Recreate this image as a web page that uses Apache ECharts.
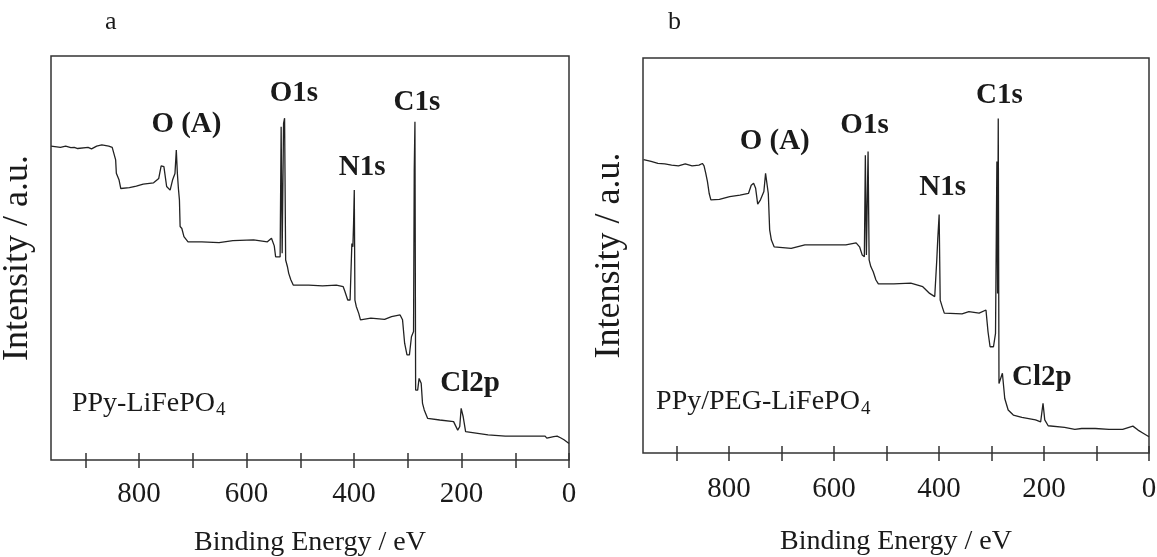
<!DOCTYPE html>
<html>
<head>
<meta charset="utf-8">
<script src="https://cdn.jsdelivr.net/npm/echarts@6/dist/echarts.min.js"></script>
<style>html,body{margin:0;padding:0;background:#fff;}#c{width:1157px;height:557px;}</style>
</head>
<body>
<div id="c"></div>
<script>
// ---- data (Binding energy eV, intensity a.u. 0-100 of frame) ----
const specA = [
[963.7,77.7],[946.4,77.4],[936.7,77.7],[927.1,77.3],[920.7,77.4],[914.3,77.1],[895,77.4],[888.6,77],[879,77.7],[869.4,78],[856.5,77.7],[850.1,77.4],[846.9,77.7],[843.7,74.3],[842.4,71],[837.3,69.3],[834.1,67.2],[818,67.4],[805.2,67.8],[792.4,68.3],[773.1,68.6],[763.5,69.7],[759,72.8],[753.9,72.6],[748.8,67.7],[742.3,66.8],[737.8,69.3],[733.3,70.9],[730.8,76.7],[728.8,70.9],[726.9,67.2],[725,64.4],[723.7,57.8],[720.5,57.3],[716.6,55.3],[709,54],[683.3,54],[651.2,53.8],[625.5,54.3],[587,54.5],[561.3,54],[553.7,54.9],[548.5,53],[546,50.3],[537.6,50.3],[535.7,82.5],[533.8,51.2],[531.2,83.3],[529.3,84.6],[527.3,49.5],[524.1,47.9],[521.6,46.2],[517.7,44.6],[513.2,43.3],[484.3,43.3],[458.7,43.1],[433,43.3],[420.2,42.9],[417,41.7],[411.8,39.6],[407.4,39.6],[404.1,53.6],[402.2,52.8],[400.9,58.6],[399.6,66.8],[398.4,39.6],[395.9,38],[391.3,36.3],[388.1,34.7],[368.8,35.1],[343.2,34.8],[330.3,35.5],[314.3,35.9],[309.8,34.7],[305.9,28.9],[301.5,26],[297,26],[293.2,30.5],[289.3,31.8],[288,71.8],[286.7,83.7],[285.4,17.3],[281.6,17.3],[279,20.2],[275.1,19],[272.6,14],[269.4,12.4],[263,10.3],[240.5,9.9],[214.8,9.5],[207.1,7.4],[203.3,8.3],[200.7,12.8],[196.9,10.7],[192.4,7],[189.2,6.6],[150.6,6.2],[118.6,5.9],[73.6,5.9],[44.5,5.9],[41.3,5.4],[28.5,5.8],[22.1,5.9],[15.9,5.5],[9.3,5],[0,4.1]
];
const specB = [
[962.9,74.3],[948.6,73.8],[935.6,73.3],[922.5,73.2],[909.5,72.9],[896.5,72.7],[883.5,73.2],[870.5,72.7],[857.4,72.9],[850.9,73.3],[847.7,72.7],[844.4,70.8],[841.2,68.7],[837.9,65.7],[834.7,64.1],[818.4,64.2],[798.8,64.9],[779.3,65.3],[763.1,65.7],[757.8,67.8],[753.3,68.3],[749.4,67],[745.5,63],[740.2,64.1],[733.7,66.2],[730.5,70.8],[727.9,70.4],[725.3,65.7],[722.7,56.5],[719.4,53.9],[714.2,52.2],[681.7,51.8],[655.6,52.7],[616.6,52.7],[577.5,52.7],[558,53.2],[551.4,52.2],[546.3,50.1],[542.3,49.7],[540.4,75.4],[538.4,50.1],[535.2,76.3],[533.2,48.9],[530,47.2],[525.4,45.9],[520.2,43.8],[515.6,42.8],[486.2,42.8],[453.8,43],[431,42.1],[417.9,40.4],[408.2,39.6],[404.3,48.9],[402.4,54.3],[399.8,60.4],[397.8,38.7],[393.9,37],[390,35.4],[356.2,35.2],[343.2,35.8],[323.6,35.4],[310.6,36.2],[306.7,30.7],[302.8,26.9],[296.3,26.9],[292.4,30.3],[289.8,73.8],[288.5,40.4],[287.2,84.7],[285.8,17.6],[282.6,17.6],[279.3,20.2],[274.8,13.8],[268.3,10.9],[258.5,9.6],[242.2,9],[216.2,8.4],[206.4,7.9],[201.9,12.6],[198.6,8.4],[192.1,6.9],[160.9,6.5],[141.3,6],[128.3,6.2],[102.3,6.2],[76.2,6],[50.2,6],[30.7,6.8],[20.9,5.8],[11.1,5],[0,4.1]
];
// peak labels: [text, eV, intensity]
const peaksA = [["O (A)",712,83],["O1s",512,90.8],["N1s",385,72.3],["C1s",283,88.6],["Cl2p",184,19]];
const peaksB = [["O (A)",713,78.8],["O1s",542,83],["N1s",393,67.1],["C1s",285,90.6],["Cl2p",204,19]];
const sampleA = ["PPy-LiFePO", "4", 926, 14];
const sampleB = ["PPy/PEG-LiFePO", "4", 940, 13];
const tickValues = [0,100,200,300,400,500,600,700,800,900];
const labelValues = [0,200,400,600,800];
const xName = "Binding Energy / eV";
const yName = "Intensity / a.u.";
const panelNames = ["a","b"];

const SERIF = "'Liberation Serif','Times New Roman',serif";
const INK = "#1a1a1a";

function xAx(gi, margin, gap){
  return {
    gridIndex: gi, type:'value', min:0, max:964, inverse:true, position:'bottom',
    offset:-7,
    axisLine:{show:false},
    axisTick:{show:true, inside:false, length:15, customValues:tickValues, lineStyle:{color:'#333', width:1.5}},
    axisLabel:{show:true, customValues:labelValues, margin:margin, fontFamily:SERIF, fontSize:29, color:INK},
    splitLine:{show:false},
    name:xName, nameLocation:'middle', nameGap:gap,
    nameTextStyle:{fontFamily:SERIF, fontSize:28, color:INK}
  };
}
function yAx(gi){
  return {
    gridIndex: gi, type:'value', min:0, max:100,
    axisLine:{show:false}, axisTick:{show:false}, axisLabel:{show:false}, splitLine:{show:false},
    name:yName, nameLocation:'middle', nameGap:15, nameRotate:90,
    nameTextStyle:{fontFamily:SERIF, fontSize:36, color:INK}
  };
}
function peakMarks(peaks, sample){
  const d = peaks.map(p => ({
    coord:[p[1], p[2]], value:p[0],
    label:{show:true, position:'inside', formatter:p[0], fontFamily:SERIF, fontWeight:'bold', fontSize:29, color:INK}
  }));
  d.push({
    coord:[sample[2], sample[3]],
    label:{show:true, position:'right', distance:0, formatter:sample[0] + '{s|' + sample[1] + '}',
      fontFamily:SERIF, fontSize:28, color:INK,
      rich:{s:{fontFamily:SERIF, fontSize:19, color:INK, padding:[14,0,0,1]}}}
  });
  return {symbol:'circle', symbolSize:1, silent:true, data:d, itemStyle:{color:'rgba(0,0,0,0)'}};
}

const chart = echarts.init(document.getElementById('c'), null, {renderer:'canvas'});
chart.setOption({
  animation:false,
  backgroundColor:'#fff',
  title:[
    {text:panelNames[0], left:100, top:4, textStyle:{fontFamily:SERIF, fontSize:26, fontWeight:'normal', color:INK}},
    {text:panelNames[1], left:663, top:4, textStyle:{fontFamily:SERIF, fontSize:26, fontWeight:'normal', color:INK}}
  ],
  grid:[
    {left:51, top:56, width:518, height:404, show:true, borderColor:'#333', borderWidth:1.5, backgroundColor:'transparent', containLabel:false, outerBoundsMode:'none'},
    {left:643, top:58, width:506, height:395, show:true, borderColor:'#333', borderWidth:1.5, backgroundColor:'transparent', containLabel:false, outerBoundsMode:'none'}
  ],
  xAxis:[xAx(0,27,76), xAx(1,29,82)],
  yAxis:[yAx(0), yAx(1)],
  series:[
    {type:'line', xAxisIndex:0, yAxisIndex:0, data:specA, showSymbol:false, symbol:'none',
      lineStyle:{color:'#222', width:1.3}, markPoint:peakMarks(peaksA, sampleA)},
    {type:'line', xAxisIndex:1, yAxisIndex:1, data:specB, showSymbol:false, symbol:'none',
      lineStyle:{color:'#222', width:1.3}, markPoint:peakMarks(peaksB, sampleB)}
  ]
});
</script>
</body>
</html>
